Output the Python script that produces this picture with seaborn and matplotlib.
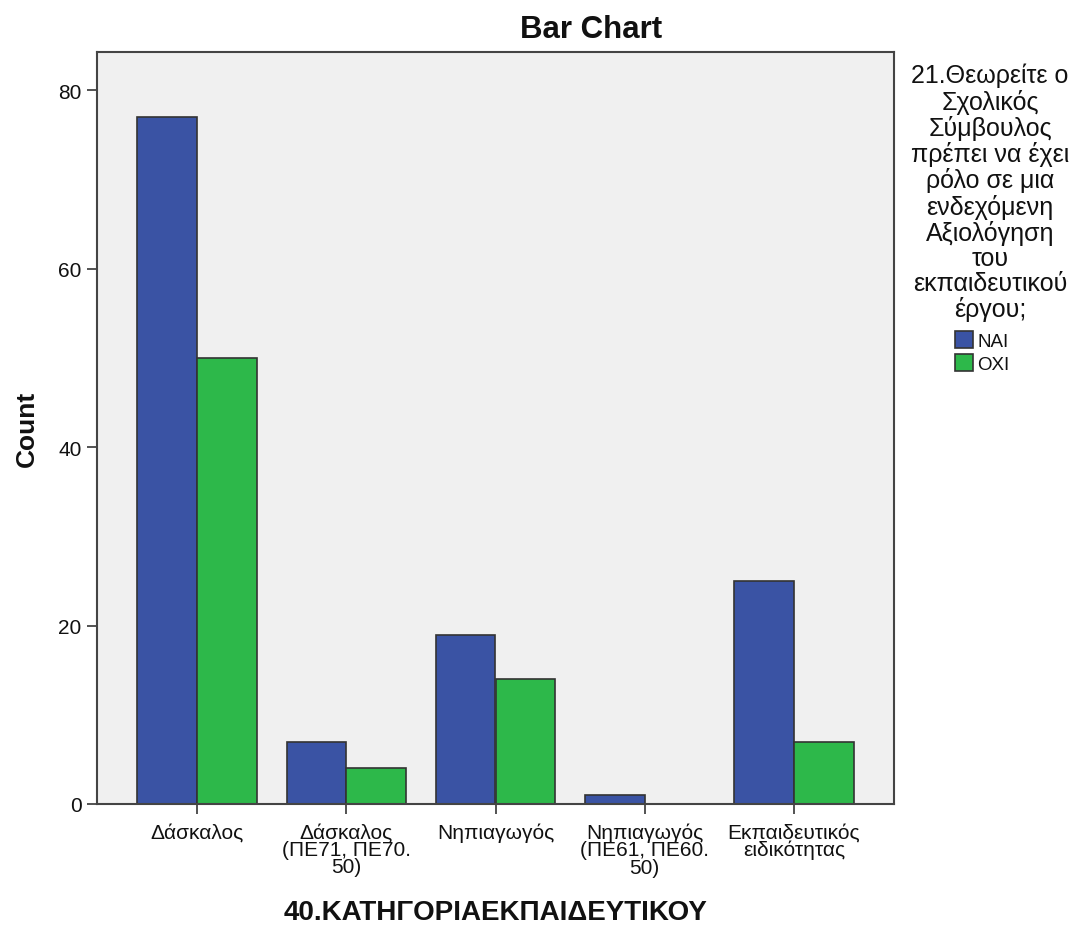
import matplotlib
matplotlib.use("Agg")
import matplotlib.pyplot as plt
import seaborn as sns
import pandas as pd

categories = ["Δάσκαλος", "Δάσκαλος\n(ΠΕ71, ΠΕ70.\n50)", "Νηπιαγωγός",
              "Νηπιαγωγός\n(ΠΕ61, ΠΕ60.\n50)", "Εκπαιδευτικός\nειδικότητας"]
nai_counts = [77, 7, 19, 1, 25]
oxi_counts = [50, 4, 14, 0, 7]
series = ["NAI", "OXI"]
legend_title = ("21.Θεωρείτε ο\nΣχολικός\nΣύμβουλος\nπρέπει να έχει\nρόλο σε μια\n"
                "ενδεχόμενη\nΑξιολόγηση\nτου\nεκπαιδευτικού\nέργου;")
y_ticks = [0, 20, 40, 60, 80]

df = pd.DataFrame({
    "cat": categories * 2,
    "count": nai_counts + oxi_counts,
    "resp": [series[0]] * len(categories) + [series[1]] * len(categories),
})

sns.set_theme(style="white")
plt.rcParams["font.family"] = ["Liberation Sans", "DejaVu Sans"]

fig = plt.figure(figsize=(10.72, 9.28), dpi=100)
ax = fig.add_axes([97 / 1072, 1 - 805 / 928, (894 - 97) / 1072, (805 - 53) / 928])
ax.set_facecolor("#F0F0F0")

sns.barplot(data=df, x="cat", y="count", hue="resp", order=categories,
            hue_order=series, palette=["#3A53A4", "#2DB84A"], saturation=1,
            edgecolor="#333333", linewidth=1.2, width=0.8, ax=ax)

ax.set_xlim(-0.67, len(categories) - 1 + 0.67)
ax.set_ylim(0, 84.3)
ax.set_yticks(y_ticks)
ax.set_yticklabels([str(v) for v in y_ticks])
for s in ax.spines.values():
    s.set_color("#444444")
    s.set_linewidth(1.5)
ax.tick_params(axis="both", which="both", direction="out", length=7, width=1.3,
               color="#444444", labelsize=15, labelcolor="#111111", pad=4,
               bottom=True, left=True)
ax.tick_params(axis="x", pad=6)
for lab in ax.get_xticklabels():
    lab.set_linespacing(0.9)

fig.text(591 / 1072, 1 - 30 / 928, "Bar Chart", fontsize=22.5, fontweight="bold",
         ha="center", va="center", color="#111111")
ax.set_ylabel("Count", fontsize=19, fontweight="bold", labelpad=14, color="#111111")
ax.set_xlabel("40.ΚΑΤΗΓΟΡΙΑΕΚΠΑΙΔΕΥΤΙΚΟΥ", fontsize=20, fontweight="bold",
              labelpad=16, color="#111111")

handles, labels = ax.get_legend_handles_labels()
if ax.legend_:
    ax.legend_.remove()
fig.text(990 / 1072, 1 - 64 / 928, legend_title, fontsize=18, ha="center", va="top",
         multialignment="center", linespacing=1.06, color="#111111")
leg = fig.legend(handles, labels, loc="upper center",
                 bbox_to_anchor=(982 / 1072, 1 - 323 / 928), frameon=False,
                 fontsize=13.5, handlelength=1.0, handleheight=1.0,
                 handletextpad=0.2, labelspacing=0.2, borderpad=0)
for t in leg.get_texts():
    t.set_color("#111111")
for h in leg.legend_handles:
    h.set_edgecolor("#333333")

fig.savefig("out.png", dpi=100)
